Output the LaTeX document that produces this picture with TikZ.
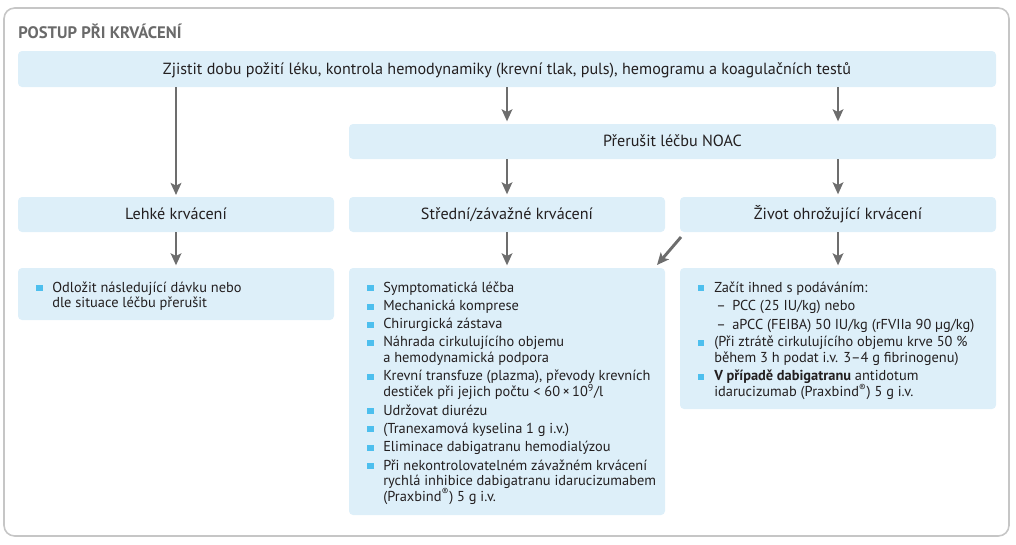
\documentclass[tikz,border=0pt]{standalone}
\usepackage{fontspec}
\setmainfont{PT Sans}
\usetikzlibrary{arrows.meta,calc}
\definecolor{boxfill}{HTML}{DDEFF9}
\definecolor{bul}{HTML}{4DBFEE}
\definecolor{arrc}{HTML}{6D6D6D}
\definecolor{framec}{HTML}{C6C6C6}
\definecolor{txt}{HTML}{231F20}
\definecolor{ttl}{HTML}{6A6A6A}
\begin{document}
\begin{tikzpicture}[x=0.75pt,y=-0.75pt,
 box/.style={fill=boxfill, rounded corners=3pt, inner sep=0pt, outer sep=0pt, text=txt,
   font=\fontsize{12.1}{13}\selectfont, text height=9.5pt, text depth=1.5pt},
 lst/.style={anchor=base west, inner sep=0pt, text=txt, font=\fontsize{10.8}{12}\selectfont},
 arrowline/.style={draw=arrc, line width=2.2pt, -{Stealth[length=9pt,width=8pt,inset=2pt]}},
]
\useasboundingbox (0,0) rectangle (1016,544);
\draw[framec, line width=1.2pt, rounded corners=8pt] (4,8) rectangle (1009,536);

\node[anchor=base west, inner sep=0pt, text=ttl, font=\bfseries\fontsize{12.5}{13}\selectfont] (title) at (18,38.5) {POSTUP PŘI KRVÁCENÍ};

\node[box, minimum width=733.5pt, minimum height=27pt] (top) at (507,69) {Zjistit dobu požití léku, kontrola hemodynamiky (krevní tlak, puls), hemogramu a koagulačních testů};
\node[box, minimum width=485.25pt, minimum height=26.25pt] (noac) at (672.5,141.5) {Přerušit léčbu NOAC};
\node[box, minimum width=237pt, minimum height=26.25pt] (lehke) at (176,214.5) {Lehké krvácení};
\node[box, minimum width=237pt, minimum height=26.25pt] (stredni) at (507,214.5) {Střední/závažné krvácení};
\node[box, minimum width=237pt, minimum height=26.25pt] (zivot) at (838,214.5) {Život ohrožující krvácení};
\node[box, minimum width=237pt, minimum height=39pt] (llist) at (176,294) {};
\node[box, minimum width=237pt, minimum height=185.25pt] (mlist) at (507,391.5) {};
\node[box, minimum width=237pt, minimum height=105.75pt] (rlist) at (838,338.5) {};

% arrows
\draw[arrowline, shorten >=1.5pt] (top.south -| lehke.north) -- (lehke.north);
\draw[arrowline, shorten >=2pt] (top.south) -- (top.south |- noac.north);
\draw[arrowline, shorten >=2pt] (top.south -| zivot.north) -- (zivot.north |- noac.north);
\draw[arrowline, shorten >=2pt] (stredni.north |- noac.south) -- (stredni.north);
\draw[arrowline, shorten >=2pt] (zivot.north |- noac.south) -- (zivot.north);
\draw[arrowline, shorten >=2pt] (lehke.south) -- (llist.north);
\draw[arrowline, shorten >=2pt] (stredni.south) -- (mlist.north);
\draw[arrowline, shorten >=2pt] (zivot.south) -- (rlist.north);
\coordinate (d1) at (681,237);
\coordinate (d2) at (657,265);
\draw[arrowline] (d1) -- (d2);

% left list
\fill[bul] (36,285) rectangle (42.5,291);
\node[lst] (l1) at (52,292) {Odložit následující dávku nebo};
\node[lst] (l2) at (52,307.5) {dle situace léčbu přerušit};

% middle list
\foreach \y in {292,310.5,328.5,346.5,380.5,415,433,451.5,470}
  \fill[bul] (367,\y-7) rectangle (373.5,\y-1);
\foreach \n/\y/\t in {
  m1/292/{Symptomatická léčba},
  m2/310.5/{Mechanická komprese},
  m3/328.5/{Chirurgická zástava},
  m4/346.5/{Náhrada cirkulujícího objemu},
  m5/362/{a hemodynamická podpora},
  m6/380.5/{Krevní transfuze (plazma), převody krevních},
  m7/396.5/{destiček při jejich počtu <~60\,×\,10\textsuperscript{9}/l},
  m8/415/{Udržovat diurézu},
  m9/433/{(Tranexamová kyselina 1 g i.v.)},
  m10/451.5/{Eliminace dabigatranu hemodialýzou},
  m11/470/{Při nekontrolovatelném závažném krvácení},
  m12/485.5/{rychlá inhibice dabigatranu idarucizumabem},
  m13/501/{(Praxbind\textsuperscript{®}) 5 g i.v.}}
  \node[lst] (\n) at (383,\y) {\t};

% right list
\foreach \y in {292,346.5,380.5}
  \fill[bul] (697.5,\y-7) rectangle (704,\y-1);
\node[lst] (r1) at (714,292) {Začít ihned s podáváním:};
\node[lst] (rd1) at (716,310.5) {–};
\node[lst] (r2) at (732,310.5) {PCC (25 IU/kg) nebo};
\node[lst] (rd2) at (716,329) {–};
\node[lst] (r3) at (732,329) {aPCC (FEIBA) 50 IU/kg (rFVIIa 90 µg/kg)};
\node[lst] (r4) at (714,346.5) {(Při ztrátě cirkulujícího objemu krve 50 \%};
\node[lst] (r5) at (714,362) {během 3 h podat i.v. 3–4 g fibrinogenu)};
\node[lst] (r6) at (714,380.5) {\textbf{V případě dabigatranu} antidotum};
\node[lst] (r7) at (714,396.5) {idarucizumab (Praxbind\textsuperscript{®}) 5 g i.v.};
\end{tikzpicture}
\end{document}
